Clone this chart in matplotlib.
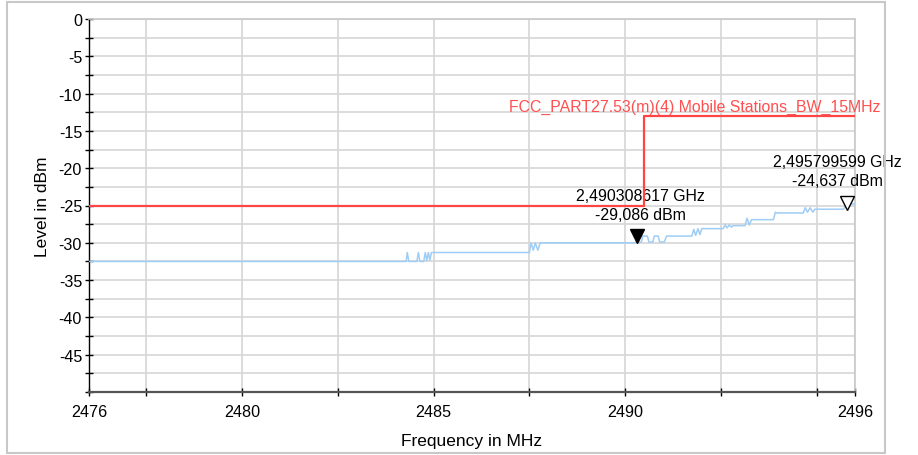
import matplotlib
matplotlib.use("Agg")
import matplotlib.pyplot as plt
from matplotlib.patches import Rectangle

plt.rcParams['font.family'] = ['Liberation Sans', 'DejaVu Sans']

# measured trace (MHz, dBm)
trace_freq = [2476.00, 2484.28, 2484.31, 2484.35, 2484.56, 2484.60, 2484.64, 2484.74,
              2484.78, 2484.82, 2484.86, 2484.90, 2484.94, 2485.00, 2487.50, 2487.54,
              2487.60, 2487.65, 2487.72, 2487.78, 2490.28, 2490.308617, 2490.36, 2490.42,
              2490.46, 2490.58, 2490.62, 2490.72, 2490.76, 2490.86, 2490.90, 2491.02,
              2491.08, 2491.74, 2491.79, 2491.84, 2491.90, 2491.95, 2492.00, 2492.56,
              2492.61, 2492.66, 2492.72, 2492.77, 2492.82, 2493.13, 2493.18, 2493.24,
              2493.30, 2493.87, 2493.92, 2493.96, 2494.65, 2494.70, 2494.76, 2494.83,
              2494.90, 2494.95, 2495.00, 2495.69, 2495.74, 2495.799599, 2495.84, 2496.00]
trace_level = [-32.5, -32.5, -31.3, -32.5, -32.5, -31.3, -32.5, -32.5,
               -31.3, -32.4, -31.3, -32.3, -31.3, -31.3, -31.3, -30.0,
               -31.0, -30.0, -31.0, -30.0, -30.0, -29.086, -29.9, -29.9,
               -29.1, -29.1, -29.9, -29.9, -29.1, -29.1, -29.9, -29.9,
               -29.1, -29.1, -28.2, -29.0, -28.1, -28.9, -28.1, -28.1,
               -27.6, -28.0, -27.6, -27.9, -27.7, -27.7, -26.7, -27.6,
               -26.9, -26.9, -25.9, -26.0, -26.0, -25.3, -25.9, -25.3,
               -25.9, -25.5, -25.5, -25.5, -25.2, -24.637, -24.8, -24.8]

# limit line
limit_freq = [2476.0, 2490.5, 2490.5, 2496.0]
limit_level = [-25.0, -25.0, -13.0, -13.0]
limit_name = "FCC_PART27.53(m)(4) Mobile Stations_BW_15MHz"

# markers
m1_freq, m1_level = 2490.308617, -29.086
m2_freq, m2_level = 2495.799599, -24.637

x_major = [2476, 2480, 2485, 2490, 2496]
x_minor = [2477.5, 2482.5, 2487.5, 2492.5, 2495]
y_major = [0, -5, -10, -15, -20, -25, -30, -35, -40, -45]
y_minor = [-2.5, -7.5, -12.5, -17.5, -22.5, -27.5, -32.5, -37.5, -42.5, -47.5, -50]

W, H = 918, 456
fig = plt.figure(figsize=(W / 100, H / 100), dpi=100)
fig.patches.append(Rectangle((7 / W, 2 / H), 878 / W, 451 / H, transform=fig.transFigure,
                             fill=False, edgecolor='#c8c8c8', linewidth=1.5))

ax = fig.add_axes([89 / W, (H - 393) / H, (855 - 89) / W, (393 - 20) / H])
ax.set_xlim(2476, 2496)
ax.set_ylim(-50, 0)

ax.set_xticks(x_major)
ax.set_xticklabels([str(v) for v in x_major])
ax.set_xticks(x_minor, minor=True)
ax.set_yticks(y_major)
ax.set_yticklabels([str(v) for v in y_major])
ax.set_yticks(y_minor, minor=True)

ax.grid(True, which='both', color='#d6d6d6', linewidth=1.2)
ax.set_axisbelow(True)

for s in ['top', 'right']:
    ax.spines[s].set_color('#c8c8c8')
    ax.spines[s].set_linewidth(1.2)
ax.spines['left'].set_color('black')
ax.spines['left'].set_linewidth(1.0)
ax.spines['bottom'].set_color('#555555')
ax.spines['bottom'].set_linewidth(1.6)

ax.tick_params(which='both', direction='inout', length=6, width=1, color='black',
               labelsize=11.6, pad=2)
ax.tick_params(axis='x', which='both', pad=6)

ax.set_xlabel("Frequency in MHz", fontsize=12.5, labelpad=10)
ax.set_ylabel("Level in dBm", fontsize=12.5, labelpad=6)

ax.plot(trace_freq, trace_level, color='#9fcdf5', linewidth=1.1, zorder=3)
ax.plot(limit_freq, limit_level, color='#ff4545', linewidth=1.6, zorder=4)
ax.annotate(limit_name, xy=(limit_freq[-1], limit_level[-1]), xytext=(25, 10),
            textcoords='offset pixels', ha='right', va='center', fontsize=11.4,
            color='#ff5050', annotation_clip=False)

# marker 1 (filled) and marker 2 (open)
ax.plot([m1_freq], [m1_level], marker='v', markersize=10, color='black',
        linestyle='none', zorder=5)
ax.annotate("%s GHz\n%s dBm" % (("%.9f" % (m1_freq / 1000)).replace('.', ','),
                                ("%.3f" % m1_level).replace('.', ',')),
            xy=(m1_freq, m1_level), xytext=(3, 31), textcoords='offset pixels',
            ha='center', va='center', fontsize=11.4, linespacing=1.3)

ax.plot([m2_freq], [m2_level], marker='v', markersize=10, markerfacecolor='white',
        markeredgecolor='black', markeredgewidth=1, linestyle='none', zorder=5,
        clip_on=False)
ax.annotate("%s GHz\n%s dBm" % (("%.9f" % (m2_freq / 1000)).replace('.', ','),
                                ("%.3f" % m2_level).replace('.', ',')),
            xy=(m2_freq, m2_level), xytext=(-10, 32), textcoords='offset pixels',
            ha='center', va='center', fontsize=11.4, linespacing=1.3,
            annotation_clip=False)

fig.savefig("out.png", dpi=100)
